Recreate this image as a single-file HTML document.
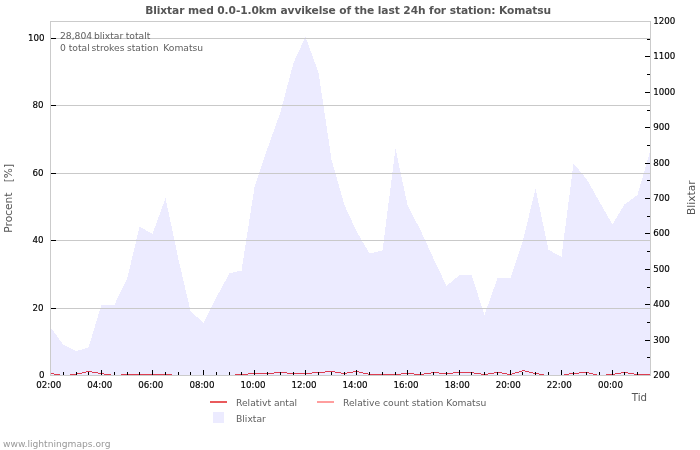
<!DOCTYPE html>
<html lang="sv"><head><meta charset="utf-8"><title>Blixtar med 0.0-1.0km avvikelse of the last 24h for station: Komatsu</title>
<style>html,body{margin:0;padding:0;background:#fff}body{width:700px;height:450px;overflow:hidden}svg{display:block}text{font-family:"DejaVu Sans","Liberation Sans",sans-serif}.t{font-size:8.7px;fill:#000;stroke:#000;stroke-width:.15px}.g{font-size:9.2px;fill:#606060}.a{font-size:10.67px;fill:#555}.c{shape-rendering:crispEdges}</style></head><body>
<svg width="700" height="450" viewBox="0 0 700 450">
<rect width="700" height="450" fill="#fff"/>
<text x="145.2" y="13.7" textLength="406" lengthAdjust="spacing" style="font-size:10.67px;font-weight:bold;fill:#555">Blixtar med 0.0-1.0km avvikelse of the last 24h for station: Komatsu</text>
<polygon class="c" points="51,375 51.0,328.0 63.5,345.0 76.5,351.0 88.5,347.5 101.5,304.5 114.5,304.7 127.5,277.5 139.5,226.6 152.5,233.9 165.5,198.0 178.5,259.5 190.5,311.0 203.5,323.0 216.5,297.0 229.5,273.4 241.5,270.5 254.5,187.4 267.5,148.4 280.5,112.0 293.5,62.8 305.5,36.8 318.5,72.5 331.5,159.5 344.5,205.2 356.5,231.3 369.5,253.5 382.5,250.5 395.5,148.7 407.5,205.2 420.5,230.2 433.5,258.5 446.5,286.0 459.5,275.0 471.5,275.0 484.5,315.0 497.5,278.0 510.5,278.0 522.5,242.5 535.5,188.5 548.5,249.8 561.5,256.9 573.5,163.6 586.5,178.9 599.5,201.8 612.5,224.5 624.5,204.5 637.5,194.9 650.0,151.6 650,375" fill="#ecebff"/>
<g class="c" fill="#c9c9c9">
<rect x="51" y="38" width="599" height="1"/>
<rect x="51" y="105" width="599" height="1"/>
<rect x="51" y="173" width="599" height="1"/>
<rect x="51" y="240" width="599" height="1"/>
<rect x="51" y="308" width="599" height="1"/>
</g>
<g class="c" fill="#dc3c50">
<rect x="51" y="373" width="3" height="1"/>
<rect x="54" y="374" width="6" height="1"/>
<rect x="70" y="374" width="6" height="1"/>
<rect x="76" y="373" width="6" height="1"/>
<rect x="82" y="372" width="4" height="1"/>
<rect x="86" y="371" width="6" height="1"/>
<rect x="92" y="372" width="6" height="1"/>
<rect x="98" y="373" width="6" height="1"/>
<rect x="104" y="374" width="7" height="1"/>
<rect x="121" y="374" width="51" height="1"/>
<rect x="235" y="374" width="13" height="1"/>
<rect x="248" y="373" width="26" height="1"/>
<rect x="274" y="372" width="13" height="1"/>
<rect x="287" y="373" width="25" height="1"/>
<rect x="312" y="372" width="13" height="1"/>
<rect x="325" y="371" width="10" height="1"/>
<rect x="335" y="372" width="6" height="1"/>
<rect x="341" y="373" width="6" height="1"/>
<rect x="347" y="372" width="6" height="1"/>
<rect x="353" y="371" width="6" height="1"/>
<rect x="359" y="372" width="4" height="1"/>
<rect x="363" y="373" width="5" height="1"/>
<rect x="368" y="374" width="33" height="1"/>
<rect x="401" y="373" width="13" height="1"/>
<rect x="414" y="374" width="10" height="1"/>
<rect x="424" y="373" width="7" height="1"/>
<rect x="431" y="372" width="8" height="1"/>
<rect x="439" y="373" width="14" height="1"/>
<rect x="453" y="372" width="21" height="1"/>
<rect x="474" y="373" width="7" height="1"/>
<rect x="481" y="374" width="7" height="1"/>
<rect x="488" y="373" width="6" height="1"/>
<rect x="494" y="372" width="8" height="1"/>
<rect x="502" y="373" width="5" height="1"/>
<rect x="507" y="374" width="5" height="1"/>
<rect x="512" y="373" width="3" height="1"/>
<rect x="515" y="372" width="4" height="1"/>
<rect x="519" y="371" width="3" height="1"/>
<rect x="522" y="370" width="3" height="1"/>
<rect x="525" y="371" width="4" height="1"/>
<rect x="529" y="372" width="4" height="1"/>
<rect x="533" y="373" width="6" height="1"/>
<rect x="539" y="374" width="5" height="1"/>
<rect x="564" y="374" width="5" height="1"/>
<rect x="569" y="373" width="10" height="1"/>
<rect x="579" y="372" width="10" height="1"/>
<rect x="589" y="373" width="4" height="1"/>
<rect x="593" y="374" width="4" height="1"/>
<rect x="606" y="374" width="9" height="1"/>
<rect x="615" y="373" width="6" height="1"/>
<rect x="621" y="372" width="7" height="1"/>
<rect x="628" y="373" width="6" height="1"/>
<rect x="634" y="374" width="16" height="1"/>
</g>
<g class="c" fill="#cbcbcb"><rect x="50" y="21" width="601" height="1"/><rect x="50" y="375" width="601" height="1"/><rect x="50" y="21" width="1" height="355"/><rect x="650" y="21" width="1" height="355"/></g>
<g class="c" fill="#000">
<rect x="51" y="38" width="5" height="1"/>
<rect x="51" y="105" width="5" height="1"/>
<rect x="51" y="173" width="5" height="1"/>
<rect x="51" y="240" width="5" height="1"/>
<rect x="51" y="308" width="5" height="1"/>
<rect x="647" y="357" width="3" height="1"/>
<rect x="645" y="340" width="5" height="1"/>
<rect x="647" y="322" width="3" height="1"/>
<rect x="645" y="304" width="5" height="1"/>
<rect x="647" y="287" width="3" height="1"/>
<rect x="645" y="269" width="5" height="1"/>
<rect x="647" y="251" width="3" height="1"/>
<rect x="645" y="233" width="5" height="1"/>
<rect x="647" y="216" width="3" height="1"/>
<rect x="645" y="198" width="5" height="1"/>
<rect x="647" y="180" width="3" height="1"/>
<rect x="645" y="163" width="5" height="1"/>
<rect x="647" y="145" width="3" height="1"/>
<rect x="645" y="127" width="5" height="1"/>
<rect x="647" y="110" width="3" height="1"/>
<rect x="645" y="92" width="5" height="1"/>
<rect x="647" y="74" width="3" height="1"/>
<rect x="645" y="56" width="5" height="1"/>
<rect x="647" y="39" width="3" height="1"/>
<rect x="63" y="372" width="1" height="3"/>
<rect x="76" y="372" width="1" height="3"/>
<rect x="88" y="372" width="1" height="3"/>
<rect x="101" y="370" width="1" height="5"/>
<rect x="114" y="372" width="1" height="3"/>
<rect x="127" y="372" width="1" height="3"/>
<rect x="139" y="372" width="1" height="3"/>
<rect x="152" y="370" width="1" height="5"/>
<rect x="165" y="372" width="1" height="3"/>
<rect x="178" y="372" width="1" height="3"/>
<rect x="190" y="372" width="1" height="3"/>
<rect x="203" y="370" width="1" height="5"/>
<rect x="216" y="372" width="1" height="3"/>
<rect x="229" y="372" width="1" height="3"/>
<rect x="241" y="372" width="1" height="3"/>
<rect x="254" y="370" width="1" height="5"/>
<rect x="267" y="372" width="1" height="3"/>
<rect x="280" y="372" width="1" height="3"/>
<rect x="293" y="372" width="1" height="3"/>
<rect x="305" y="370" width="1" height="5"/>
<rect x="318" y="372" width="1" height="3"/>
<rect x="331" y="372" width="1" height="3"/>
<rect x="344" y="372" width="1" height="3"/>
<rect x="356" y="370" width="1" height="5"/>
<rect x="369" y="372" width="1" height="3"/>
<rect x="382" y="372" width="1" height="3"/>
<rect x="395" y="372" width="1" height="3"/>
<rect x="407" y="370" width="1" height="5"/>
<rect x="420" y="372" width="1" height="3"/>
<rect x="433" y="372" width="1" height="3"/>
<rect x="446" y="372" width="1" height="3"/>
<rect x="459" y="370" width="1" height="5"/>
<rect x="471" y="372" width="1" height="3"/>
<rect x="484" y="372" width="1" height="3"/>
<rect x="497" y="372" width="1" height="3"/>
<rect x="510" y="370" width="1" height="5"/>
<rect x="522" y="372" width="1" height="3"/>
<rect x="535" y="372" width="1" height="3"/>
<rect x="548" y="372" width="1" height="3"/>
<rect x="561" y="370" width="1" height="5"/>
<rect x="573" y="372" width="1" height="3"/>
<rect x="586" y="372" width="1" height="3"/>
<rect x="599" y="372" width="1" height="3"/>
<rect x="612" y="370" width="1" height="5"/>
<rect x="624" y="372" width="1" height="3"/>
<rect x="637" y="372" width="1" height="3"/>
</g>
<text class="t" x="44.5" y="378.2" text-anchor="end">0</text>
<text class="t" x="43.5" y="311.2" text-anchor="end">20</text>
<text class="t" x="43.5" y="243.2" text-anchor="end">40</text>
<text class="t" x="43.5" y="176.2" text-anchor="end">60</text>
<text class="t" x="43.5" y="108.2" text-anchor="end">80</text>
<text class="t" x="44.5" y="41.2" text-anchor="end">100</text>
<text class="t" x="653.2" y="378.2">200</text>
<text class="t" x="653.2" y="343.2">300</text>
<text class="t" x="653.2" y="307.2">400</text>
<text class="t" x="653.2" y="272.2">500</text>
<text class="t" x="653.2" y="236.2">600</text>
<text class="t" x="653.2" y="201.2">700</text>
<text class="t" x="653.2" y="166.2">800</text>
<text class="t" x="653.2" y="130.2">900</text>
<text class="t" x="653.2" y="95.2">1000</text>
<text class="t" x="653.2" y="59.2">1100</text>
<text class="t" x="653.2" y="24.2">1200</text>
<text class="t" x="48.7" y="388" text-anchor="middle">02:00</text>
<text class="t" x="99.8" y="388" text-anchor="middle">04:00</text>
<text class="t" x="150.8" y="388" text-anchor="middle">06:00</text>
<text class="t" x="201.9" y="388" text-anchor="middle">08:00</text>
<text class="t" x="253.0" y="388" text-anchor="middle">10:00</text>
<text class="t" x="304.0" y="388" text-anchor="middle">12:00</text>
<text class="t" x="355.1" y="388" text-anchor="middle">14:00</text>
<text class="t" x="406.1" y="388" text-anchor="middle">16:00</text>
<text class="t" x="457.2" y="388" text-anchor="middle">18:00</text>
<text class="t" x="508.3" y="388" text-anchor="middle">20:00</text>
<text class="t" x="559.3" y="388" text-anchor="middle">22:00</text>
<text class="t" x="610.4" y="388" text-anchor="middle">00:00</text>
<text class="g" x="60" y="38.6">28,804 <tspan dx="-1.2">blixtar </tspan><tspan dx="-0.5">totalt</tspan></text>
<text class="g" x="60" y="50.6">0 total <tspan dx="-1.2">strokes </tspan><tspan dx="-0.5">station </tspan><tspan dx="1.7">Komatsu</tspan></text>
<text class="a" transform="translate(11.6,198.3) rotate(-90)" text-anchor="middle" xml:space="preserve" style="white-space:pre">Procent   [%]</text>
<text class="a" transform="translate(694.8,197.7) rotate(-90)" text-anchor="middle">Blixtar</text>
<text x="631.8" y="400.7" style="font-size:10.2px;fill:#555">Tid</text>
<rect class="c" x="210" y="401" width="17" height="2" fill="#e95a5c"/>
<text class="g" x="236" y="405.7">Relativt antal</text>
<rect class="c" x="317" y="401" width="17" height="2" fill="#ff9e9e"/>
<text class="g" x="343" y="405.7">Relative count station Komatsu</text>
<rect class="c" x="213" y="412" width="11" height="11" fill="#ecebff"/>
<text class="g" x="236" y="421.7">Blixtar</text>
<text x="3" y="447.3" style="font-size:9.15px;fill:#999">www.lightningmaps.org</text>
</svg></body></html>
